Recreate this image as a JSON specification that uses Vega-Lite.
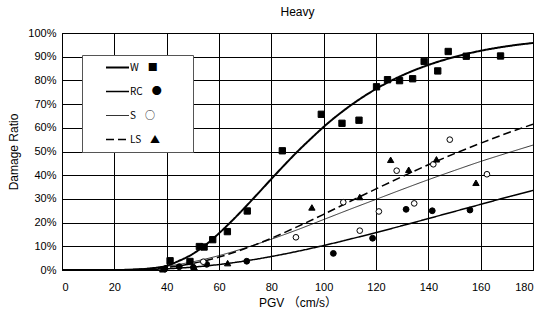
{
  "$schema": "https://vega.github.io/schema/vega-lite/v6.json",
  "width": 471,
  "height": 237,
  "autosize": {"type": "none"},
  "padding": {"left": 62, "top": 33, "right": 11, "bottom": 52},
  "background": "white",
  "title": {"text": "Heavy", "fontSize": 12, "fontWeight": "normal", "font": "Liberation Sans, Noto Sans CJK JP", "anchor": "middle", "offset": 8, "color": "black"},
  "datasets": {
    "curves": [
      {"series": "W", "pgv": 0, "ratio": 0}, {"series": "W", "pgv": 10, "ratio": 0}, {"series": "W", "pgv": 20, "ratio": 0.0001},
      {"series": "W", "pgv": 30, "ratio": 0.003}, {"series": "W", "pgv": 35, "ratio": 0.008}, {"series": "W", "pgv": 40, "ratio": 0.018},
      {"series": "W", "pgv": 45, "ratio": 0.04}, {"series": "W", "pgv": 50, "ratio": 0.068}, {"series": "W", "pgv": 55, "ratio": 0.107},
      {"series": "W", "pgv": 60, "ratio": 0.155}, {"series": "W", "pgv": 65, "ratio": 0.208}, {"series": "W", "pgv": 70, "ratio": 0.265},
      {"series": "W", "pgv": 75, "ratio": 0.324}, {"series": "W", "pgv": 80, "ratio": 0.384}, {"series": "W", "pgv": 85, "ratio": 0.443},
      {"series": "W", "pgv": 90, "ratio": 0.5}, {"series": "W", "pgv": 95, "ratio": 0.553}, {"series": "W", "pgv": 100, "ratio": 0.604},
      {"series": "W", "pgv": 110, "ratio": 0.692}, {"series": "W", "pgv": 120, "ratio": 0.764}, {"series": "W", "pgv": 130, "ratio": 0.821},
      {"series": "W", "pgv": 140, "ratio": 0.865}, {"series": "W", "pgv": 150, "ratio": 0.899}, {"series": "W", "pgv": 160, "ratio": 0.925},
      {"series": "W", "pgv": 170, "ratio": 0.944}, {"series": "W", "pgv": 180, "ratio": 0.958},
      {"series": "RC", "pgv": 0, "ratio": 0}, {"series": "RC", "pgv": 10, "ratio": 0}, {"series": "RC", "pgv": 20, "ratio": 0.0002},
      {"series": "RC", "pgv": 30, "ratio": 0.0014}, {"series": "RC", "pgv": 40, "ratio": 0.0051}, {"series": "RC", "pgv": 50, "ratio": 0.0121},
      {"series": "RC", "pgv": 60, "ratio": 0.0231}, {"series": "RC", "pgv": 70, "ratio": 0.0382}, {"series": "RC", "pgv": 80, "ratio": 0.0569},
      {"series": "RC", "pgv": 90, "ratio": 0.0788}, {"series": "RC", "pgv": 100, "ratio": 0.1033}, {"series": "RC", "pgv": 110, "ratio": 0.13},
      {"series": "RC", "pgv": 120, "ratio": 0.158}, {"series": "RC", "pgv": 130, "ratio": 0.187}, {"series": "RC", "pgv": 140, "ratio": 0.217},
      {"series": "RC", "pgv": 150, "ratio": 0.247}, {"series": "RC", "pgv": 160, "ratio": 0.277}, {"series": "RC", "pgv": 170, "ratio": 0.307},
      {"series": "RC", "pgv": 180, "ratio": 0.336},
      {"series": "S", "pgv": 0, "ratio": 0}, {"series": "S", "pgv": 10, "ratio": 0}, {"series": "S", "pgv": 20, "ratio": 0.0008},
      {"series": "S", "pgv": 30, "ratio": 0.0051}, {"series": "S", "pgv": 40, "ratio": 0.016}, {"series": "S", "pgv": 50, "ratio": 0.0346},
      {"series": "S", "pgv": 60, "ratio": 0.0607}, {"series": "S", "pgv": 70, "ratio": 0.0931}, {"series": "S", "pgv": 80, "ratio": 0.13},
      {"series": "S", "pgv": 90, "ratio": 0.17}, {"series": "S", "pgv": 100, "ratio": 0.213}, {"series": "S", "pgv": 110, "ratio": 0.256},
      {"series": "S", "pgv": 120, "ratio": 0.298}, {"series": "S", "pgv": 130, "ratio": 0.34}, {"series": "S", "pgv": 140, "ratio": 0.381},
      {"series": "S", "pgv": 150, "ratio": 0.42}, {"series": "S", "pgv": 160, "ratio": 0.458}, {"series": "S", "pgv": 170, "ratio": 0.493},
      {"series": "S", "pgv": 180, "ratio": 0.527},
      {"series": "LS", "pgv": 0, "ratio": 0}, {"series": "LS", "pgv": 10, "ratio": 0}, {"series": "LS", "pgv": 20, "ratio": 0.0002},
      {"series": "LS", "pgv": 30, "ratio": 0.0026}, {"series": "LS", "pgv": 40, "ratio": 0.0107}, {"series": "LS", "pgv": 50, "ratio": 0.0276},
      {"series": "LS", "pgv": 60, "ratio": 0.0545}, {"series": "LS", "pgv": 70, "ratio": 0.0906}, {"series": "LS", "pgv": 80, "ratio": 0.134},
      {"series": "LS", "pgv": 90, "ratio": 0.183}, {"series": "LS", "pgv": 100, "ratio": 0.235}, {"series": "LS", "pgv": 110, "ratio": 0.289},
      {"series": "LS", "pgv": 120, "ratio": 0.342}, {"series": "LS", "pgv": 130, "ratio": 0.394}, {"series": "LS", "pgv": 140, "ratio": 0.444},
      {"series": "LS", "pgv": 150, "ratio": 0.491}, {"series": "LS", "pgv": 160, "ratio": 0.535}, {"series": "LS", "pgv": 170, "ratio": 0.577},
      {"series": "LS", "pgv": 180, "ratio": 0.615}
    ],
    "points": [
      {"kind": "W", "pgv": 41.3, "ratio": 0.039}, {"kind": "W", "pgv": 48.9, "ratio": 0.036}, {"kind": "W", "pgv": 52.5, "ratio": 0.099},
      {"kind": "W", "pgv": 54.3, "ratio": 0.097}, {"kind": "W", "pgv": 57.6, "ratio": 0.128}, {"kind": "W", "pgv": 63.2, "ratio": 0.162},
      {"kind": "W", "pgv": 70.8, "ratio": 0.249}, {"kind": "W", "pgv": 84.2, "ratio": 0.503}, {"kind": "W", "pgv": 99.1, "ratio": 0.657},
      {"kind": "W", "pgv": 107, "ratio": 0.619}, {"kind": "W", "pgv": 113.5, "ratio": 0.632}, {"kind": "W", "pgv": 120.2, "ratio": 0.773},
      {"kind": "W", "pgv": 124.4, "ratio": 0.803}, {"kind": "W", "pgv": 129, "ratio": 0.799}, {"kind": "W", "pgv": 134, "ratio": 0.807},
      {"kind": "W", "pgv": 138.4, "ratio": 0.88}, {"kind": "W", "pgv": 143.6, "ratio": 0.84}, {"kind": "W", "pgv": 147.6, "ratio": 0.922},
      {"kind": "W", "pgv": 154.5, "ratio": 0.902}, {"kind": "W", "pgv": 167.6, "ratio": 0.903},
      {"kind": "RC", "pgv": 39.3, "ratio": 0.004}, {"kind": "RC", "pgv": 44.8, "ratio": 0.014}, {"kind": "RC", "pgv": 50.2, "ratio": 0.011},
      {"kind": "RC", "pgv": 55.3, "ratio": 0.024}, {"kind": "RC", "pgv": 70.6, "ratio": 0.037}, {"kind": "RC", "pgv": 103.7, "ratio": 0.07},
      {"kind": "RC", "pgv": 118.7, "ratio": 0.134}, {"kind": "RC", "pgv": 131.5, "ratio": 0.256}, {"kind": "RC", "pgv": 141.5, "ratio": 0.25},
      {"kind": "RC", "pgv": 155.9, "ratio": 0.253},
      {"kind": "S", "pgv": 54, "ratio": 0.035}, {"kind": "S", "pgv": 89.4, "ratio": 0.138}, {"kind": "S", "pgv": 107.5, "ratio": 0.286},
      {"kind": "S", "pgv": 113.8, "ratio": 0.166}, {"kind": "S", "pgv": 121.1, "ratio": 0.247}, {"kind": "S", "pgv": 127.9, "ratio": 0.419},
      {"kind": "S", "pgv": 134.6, "ratio": 0.281}, {"kind": "S", "pgv": 141.9, "ratio": 0.446}, {"kind": "S", "pgv": 148.2, "ratio": 0.55},
      {"kind": "S", "pgv": 162.4, "ratio": 0.404},
      {"kind": "LS", "pgv": 38.5, "ratio": 0.003}, {"kind": "LS", "pgv": 50.5, "ratio": 0.012}, {"kind": "LS", "pgv": 63.3, "ratio": 0.029},
      {"kind": "LS", "pgv": 95.5, "ratio": 0.264}, {"kind": "LS", "pgv": 113.8, "ratio": 0.308}, {"kind": "LS", "pgv": 125.6, "ratio": 0.465},
      {"kind": "LS", "pgv": 132.5, "ratio": 0.423}, {"kind": "LS", "pgv": 143.1, "ratio": 0.467}, {"kind": "LS", "pgv": 158.2, "ratio": 0.368}
    ]
  },
  "encoding": {
    "x": {"field": "pgv", "type": "quantitative", "title": "PGV （cm/s）",
      "scale": {"domain": [0, 180], "nice": false},
      "axis": {"values": [0, 20, 40, 60, 80, 100, 120, 140, 160, 180], "labelPadding": 11, "titlePadding": 5}},
    "y": {"field": "ratio", "type": "quantitative", "title": "Damage Ratio",
      "scale": {"domain": [0, 1], "nice": false},
      "axis": {"values": [0, 0.1, 0.2, 0.3, 0.4, 0.5, 0.6, 0.7, 0.8, 0.9, 1], "format": ".0%", "labelPadding": 6, "titlePadding": 7}}
  },
  "layer": [
    {
      "data": {"name": "curves"},
      "mark": {"type": "line", "interpolate": "monotone", "stroke": "black", "clip": true},
      "encoding": {
        "strokeDash": {"field": "series", "type": "nominal",
          "scale": {"domain": ["W", "RC", "S", "LS"], "range": [[1, 0], [1, 0], [1, 0], [8, 4]]},
          "legend": {"orient": "none", "legendX": 20, "legendY": 22, "title": null,
            "fillColor": "white", "strokeColor": "#555", "padding": 6, "clipHeight": 13,
            "symbolType": "stroke", "symbolSize": 529, "symbolStrokeColor": "black", "symbolOffset": 17,
            "labelOffset": 0, "labelAlign": "left", "labelFont": "Noto Sans CJK JP", "labelFontSize": 10, "labelColor": "black",
            "labelLimit": 300, "rowPadding": 11,
            "labelExpr": "datum.label == 'W' ? 'W\u00a0\u00a0\u00a0\u00a0■\u00a0\u00a0\u00a0\u00a0\u00a0\u00a0\u00a0\u00a0\u2800' : datum.label == 'RC' ? 'RC\u00a0\u00a0\u00a0\u00a0●\u00a0\u00a0\u00a0\u00a0\u00a0\u00a0\u00a0\u00a0\u2800' : datum.label == 'S' ? 'S\u00a0\u00a0\u00a0\u00a0○\u00a0\u00a0\u00a0\u00a0\u00a0\u00a0\u00a0\u00a0\u2800' : 'LS\u00a0\u00a0\u00a0\u00a0▲\u00a0\u00a0\u00a0\u00a0\u00a0\u00a0\u00a0\u00a0\u2800'"}},
        "strokeWidth": {"field": "series", "type": "nominal",
          "scale": {"type": "ordinal", "domain": ["W", "RC", "S", "LS"], "range": [2, 1.5, 0.8, 1.5]},
          "legend": {"orient": "none", "legendX": 20, "legendY": 22, "title": null,
            "fillColor": "white", "strokeColor": "#555", "padding": 6, "clipHeight": 13,
            "symbolType": "stroke", "symbolSize": 529, "symbolStrokeColor": "black", "symbolOffset": 17,
            "labelOffset": 0, "labelAlign": "left", "labelFont": "Noto Sans CJK JP", "labelFontSize": 10, "labelColor": "black",
            "labelLimit": 300, "rowPadding": 11,
            "labelExpr": "datum.label == 'W' ? 'W\u00a0\u00a0\u00a0\u00a0■\u00a0\u00a0\u00a0\u00a0\u00a0\u00a0\u00a0\u00a0\u2800' : datum.label == 'RC' ? 'RC\u00a0\u00a0\u00a0\u00a0●\u00a0\u00a0\u00a0\u00a0\u00a0\u00a0\u00a0\u00a0\u2800' : datum.label == 'S' ? 'S\u00a0\u00a0\u00a0\u00a0○\u00a0\u00a0\u00a0\u00a0\u00a0\u00a0\u00a0\u00a0\u2800' : 'LS\u00a0\u00a0\u00a0\u00a0▲\u00a0\u00a0\u00a0\u00a0\u00a0\u00a0\u00a0\u00a0\u2800'"}}
      }
    },
    {
      "data": {"name": "points"},
      "mark": {"type": "point", "filled": true, "stroke": "black", "strokeWidth": 1, "opacity": 1},
      "encoding": {
        "shape": {"field": "kind", "type": "nominal",
          "scale": {"domain": ["W", "RC", "S", "LS"], "range": ["square", "circle", "circle", "triangle-up"]}, "legend": null},
        "fill": {"field": "kind", "type": "nominal",
          "scale": {"domain": ["W", "RC", "S", "LS"], "range": ["black", "black", "white", "black"]}, "legend": null},
        "size": {"field": "kind", "type": "nominal",
          "scale": {"type": "ordinal", "domain": ["W", "RC", "S", "LS"], "range": [40, 34, 32, 40]}, "legend": null}
      }
    }
  ],
  "resolve": {"scale": {"shape": "independent", "size": "independent", "fill": "independent"}},
  "config": {
    "view": {"stroke": "black", "strokeWidth": 1},
    "axis": {
      "grid": true, "gridColor": "black", "gridOpacity": 1, "gridWidth": 1,
      "domain": true, "domainColor": "black", "domainWidth": 1,
      "ticks": false, "tickSize": 0,
      "labelFont": "Liberation Sans, Noto Sans CJK JP", "labelFontSize": 11, "labelColor": "black",
      "titleFont": "Liberation Sans, Noto Sans CJK JP", "titleFontSize": 12, "titleFontWeight": "normal", "titleColor": "black"
    }
  }
}
